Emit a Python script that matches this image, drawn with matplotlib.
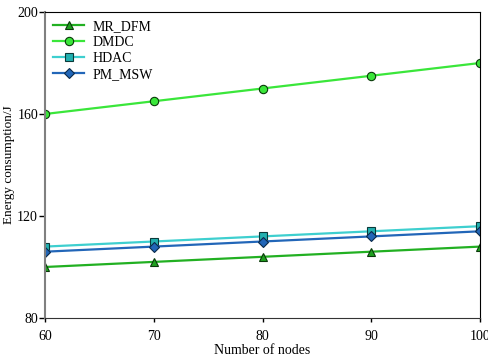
import matplotlib
matplotlib.use("Agg")
import matplotlib.pyplot as plt

nodes = [60, 70, 80, 90, 100]
mr_dfm = [100, 102, 104, 106, 108]
dmdc = [160, 165, 170, 175, 180]
hdac = [108, 110, 112, 114, 116]
pm_msw = [106, 108, 110, 112, 114]

plt.rcParams["font.family"] = ["Liberation Serif", "DejaVu Serif"]

fig = plt.figure(figsize=(4.89, 3.58), dpi=100)
ax = fig.add_axes([45 / 489, 40 / 358, 435 / 489, 306 / 358])

ax.plot(nodes, mr_dfm, color="#22b022", lw=1.6, marker="^", ms=6,
        mfc="#20a020", mec="#0a3a0a", mew=0.8, label="MR_DFM")
ax.plot(nodes, dmdc, color="#3ae63a", lw=1.6, marker="o", ms=6,
        mfc="#3ae63a", mec="#0a3a0a", mew=0.8, label="DMDC")
ax.plot(nodes, hdac, color="#3ecfcf", lw=1.6, marker="s", ms=6,
        mfc="#22b0b0", mec="#0a3a3a", mew=0.8, label="HDAC")
ax.plot(nodes, pm_msw, color="#2266b8", lw=1.6, marker="D", ms=5.5,
        mfc="#2266b8", mec="#0a2a4a", mew=0.8, label="PM_MSW")

ax.set_xlim(60, 100)
ax.set_ylim(80, 200)
ax.set_xticks([60, 70, 80, 90, 100])
ax.set_yticks([80, 120, 160, 200])
ax.tick_params(axis="x", labelsize=10, length=3, width=1, pad=6)
ax.tick_params(axis="y", labelsize=10, length=4, width=1, pad=1)
ax.spines["left"].set_color("#808080")
ax.spines["left"].set_linewidth(1.5)
ax.spines["bottom"].set_color("#333333")
ax.set_xlabel("Number of nodes", fontsize=10, va="top")
ax.xaxis.set_label_coords(0.5, -0.086)
ax.set_ylabel("Energy consumption/J", fontsize=9.5)
ax.yaxis.set_label_coords(-0.069, 0.5)

ax.legend(loc="upper left", frameon=False, fontsize=10, handlelength=2.2,
          handletextpad=0.6, labelspacing=0.2, borderaxespad=0.15,
          borderpad=0.45)

fig.savefig("out.png", dpi=100)
